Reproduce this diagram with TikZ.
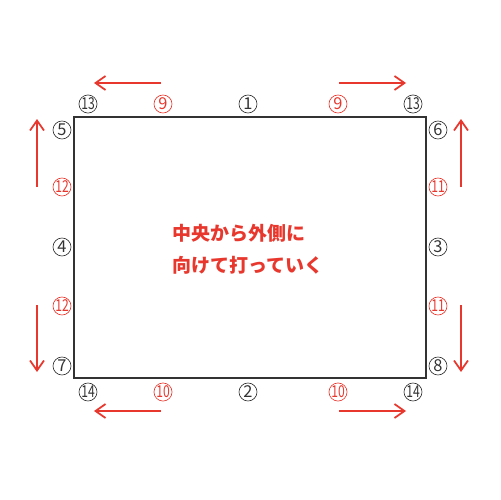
\documentclass[tikz,border=0pt]{standalone}
\usepackage{graphicx}
\usepackage{fontspec}
\newfontfamily\jpfont{Noto Sans CJK JP}
\usetikzlibrary{arrows.meta,positioning}
\definecolor{markred}{HTML}{E8382E}
\definecolor{edgegrey}{HTML}{333333}
\newcommand{\twodig}[1]{\scalebox{0.74}[1]{#1}}

\begin{document}
\begin{tikzpicture}[x=0.03cm,y=-0.03cm]

\tikzset{blacknum/.style={font=\jpfont\fontsize{14}{14}\selectfont,text=edgegrey,draw=edgegrey,line width=0.55pt,inner sep=0pt,minimum size=0.54cm,shape=circle},
rednum/.style={font=\jpfont\fontsize{14}{14}\selectfont,text=markred,draw=markred,line width=0.55pt,inner sep=0pt,minimum size=0.54cm,shape=circle},
redarrow/.style={markred,line width=1.5pt,-{Straight Barb[length=3mm,width=4.2mm]}},
jptext/.style={font=\jpfont\bfseries\fontsize{16.2}{20}\selectfont,text=markred,inner sep=0pt,anchor=west}}

\useasboundingbox (0,0) rectangle (500,500);

% Frame
\draw[edgegrey,line width=1.6pt] (74,117) rectangle (426,378);

% Top row
\node[blacknum] (t1) at (88,104) {\twodig{13}};
\node[rednum] (t2) at (163,104) {9};
\node[blacknum] (t3) at (248,104) {1};
\node[rednum] (t4) at (338,104) {9};
\node[blacknum] (t5) at (413,104) {\twodig{13}};

% Bottom row
\node[blacknum] (b1) at (88,392) {\twodig{14}};
\node[rednum] (b2) at (163,392) {\twodig{10}};
\node[blacknum] (b3) at (248,392) {2};
\node[rednum] (b4) at (338,392) {\twodig{10}};
\node[blacknum] (b5) at (413,392) {\twodig{14}};

% Left column
\node[blacknum] (l1) at (62,130) {5};
\node[rednum] (l2) at (62,187) {\twodig{12}};
\node[blacknum] (l3) at (62,247) {4};
\node[rednum] (l4) at (62,306) {\twodig{12}};
\node[blacknum] (l5) at (62,366) {7};

% Right column
\node[blacknum] (r1) at (438,130) {6};
\node[rednum] (r2) at (438,187) {\twodig{11}};
\node[blacknum] (r3) at (438,247) {3};
\node[rednum] (r4) at (438,306) {\twodig{11}};
\node[blacknum] (r5) at (438,366) {8};

% Arrow ends
\coordinate (atl1) at (161,83); \coordinate (atl2) at (94,83);
\coordinate (atr1) at (339,83); \coordinate (atr2) at (406,83);
\coordinate (abl1) at (161,411); \coordinate (abl2) at (94,411);
\coordinate (abr1) at (339,411); \coordinate (abr2) at (406,411);
\coordinate (alu1) at (37,187); \coordinate (alu2) at (37,119);
\coordinate (ald1) at (37,305); \coordinate (ald2) at (37,372);
\coordinate (aru1) at (461,187); \coordinate (aru2) at (461,119);
\coordinate (ard1) at (461,305); \coordinate (ard2) at (461,372);

% Directions
\foreach \a in {atl,atr,abl,abr,alu,ald,aru,ard} \draw[redarrow] (\a1) -- (\a2);

% Centre note
\node[jptext] (line1) at (172,233) {中央から外側に};
\node[jptext] (line2) at (172,265) {向けて打っていく};

\end{tikzpicture}
\end{document}
